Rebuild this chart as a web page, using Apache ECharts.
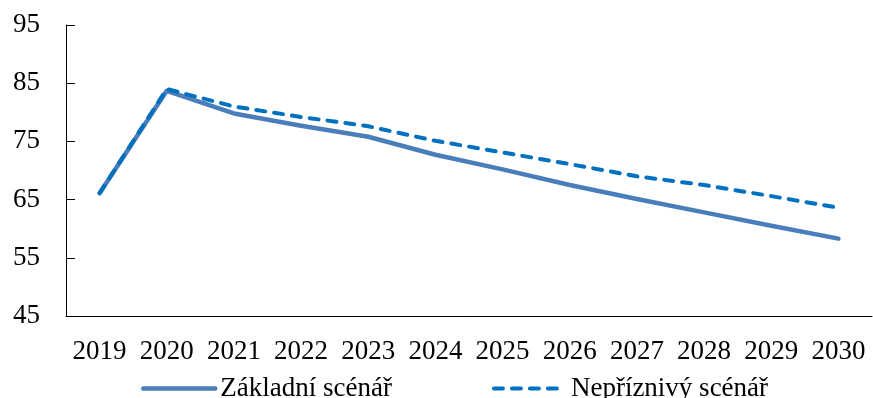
<!DOCTYPE html>
<html>
<head>
<meta charset="utf-8">
<script src="https://cdn.jsdelivr.net/npm/echarts@6/dist/echarts.min.js"></script>
<style>
html,body{margin:0;padding:0;background:#fff;}
#chart{width:873px;height:398px;}
</style>
</head>
<body>
<div id="chart"></div>
<script>
const years = ['2019','2020','2021','2022','2023','2024','2025','2026','2027','2028','2029','2030'];
const baseName = 'Základní scénář';
const adverseName = 'Nepříznivý scénář';
const baseValues = [66.1, 83.7, 79.8, 77.7, 75.8, 72.7, 70.2, 67.5, 65.1, 62.8, 60.5, 58.3];
const adverseValues = [66.1, 84.0, 81.0, 79.2, 77.6, 75.1, 73.1, 71.1, 69.0, 67.5, 65.6, 63.6];
const yTicks = {min: 45, max: 95, interval: 10};

const FONT = '"Liberation Serif", "Times New Roman", serif';
const chart = echarts.init(document.getElementById('chart'), null, {renderer: 'canvas'});
chart.setOption({
  animation: false,
  backgroundColor: '#ffffff',
  grid: {left: 66, right: 1, top: 25, bottom: 82, containLabel: false},
  legend: {
    left: 136, top: 370,
    itemWidth: 72, itemHeight: 14, itemGap: 100,
    itemStyle: {opacity: 0},
    lineStyle: {width: 4.5, cap: 'round'},
    textStyle: {fontFamily: FONT, fontSize: 27, color: '#000'},
    data: [
      {name: baseName, lineStyle: {width: 4.5, cap: 'round'}},
      {name: adverseName, lineStyle: {width: 4, cap: 'round', type: [9, 9]}}
    ]
  },
  xAxis: {
    type: 'category',
    data: years,
    boundaryGap: true,
    axisLine: {lineStyle: {color: '#000', width: 1}},
    axisTick: {inside: true, length: 9, lineStyle: {color: '#000'}},
    axisLabel: {fontFamily: FONT, fontSize: 27, color: '#000', margin: 22, interval: 0},
    splitLine: {show: false}
  },
  yAxis: {
    type: 'value',
    min: yTicks.min, max: yTicks.max, interval: yTicks.interval,
    axisLine: {show: true, lineStyle: {color: '#000', width: 1}},
    axisTick: {show: true, inside: true, length: 9, lineStyle: {color: '#000'}},
    axisLabel: {fontFamily: FONT, fontSize: 27, color: '#000', margin: 26},
    splitLine: {show: false}
  },
  series: [
    {
      name: baseName, type: 'line', data: baseValues,
      symbol: 'none', smooth: false,
      itemStyle: {color: '#4A7EBB'},
      lineStyle: {color: '#4A7EBB', width: 4.5, cap: 'round', join: 'round'},
      z: 2
    },
    {
      name: adverseName, type: 'line', data: adverseValues,
      symbol: 'none', smooth: false,
      itemStyle: {color: '#0070C0'},
      lineStyle: {color: '#0070C0', width: 4, type: [9, 9], cap: 'round', join: 'round'},
      z: 3
    }
  ]
});
</script>
</body>
</html>
